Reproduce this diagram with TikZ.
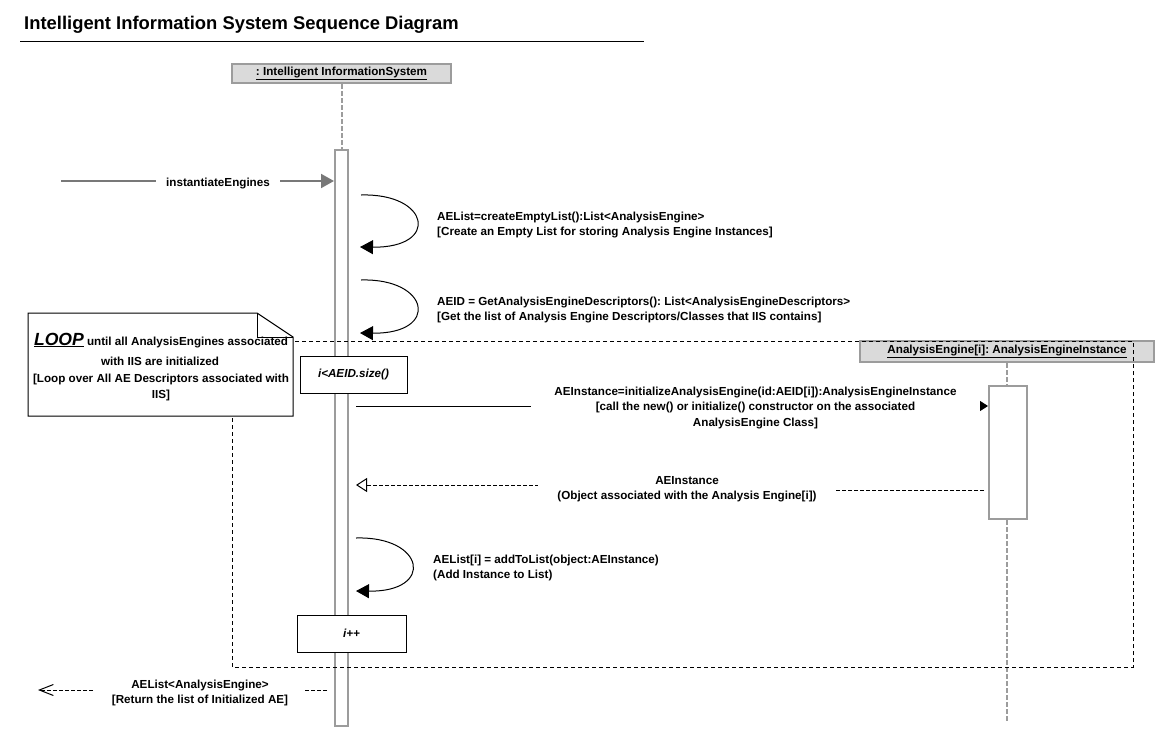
\documentclass[tikz,border=0pt]{standalone}
\usepackage{fontspec}
\setmainfont{Liberation Sans}
\usetikzlibrary{arrows.meta}
\frenchspacing
\definecolor{hdrfill}{HTML}{DADADA}
\definecolor{hdrline}{HTML}{9C9C9C}
\definecolor{msggray}{HTML}{787878}
\tikzset{
  txt/.style={font=\fontsize{11.66}{15.5}\selectfont\bfseries\frenchspacing, inner sep=0pt},
  header/.style={txt, draw=hdrline, line width=2pt, fill=hdrfill},
  actbar/.style={draw=hdrline, line width=2pt, fill=white, inner sep=0pt},
  lifeline/.style={draw=hdrline, line width=2pt, dash pattern=on 5pt off 2pt},
  guardbox/.style={txt, font=\fontsize{11.66}{15.5}\selectfont\bfseries\itshape, draw=black, line width=1pt, fill=white},
  framebox/.style={draw=black, line width=1pt, dash pattern=on 4pt off 3pt},
  notebox/.style={draw=black, line width=1pt, fill=white},
  selfcall/.style={draw=black, line width=1pt, -{Triangle[length=13pt,width=14pt]}},
  callmsg/.style={draw=black, line width=1pt, -{Triangle[length=8pt,width=10pt]}},
  replymsg/.style={draw=black, line width=1pt, dash pattern=on 4pt off 2pt, -{Triangle[open, length=11pt,width=14pt, fill=white]}},
  finalmsg/.style={draw=black, line width=1pt, dash pattern=on 4pt off 2pt, -{Straight Barb[length=14pt,width=11pt]}},
  foundmsg/.style={draw=msggray, line width=2pt, -{Triangle[length=13pt,width=14pt]}},
  lbl/.style={txt, fill=white, align=center},
  lbll/.style={txt, align=left, anchor=west},
}
\begin{document}
\begin{tikzpicture}[x=1pt,y=-1pt]
\useasboundingbox (0,0) rectangle (1175,750);

% title
\node[anchor=base west, font=\fontsize{18.4}{20}\selectfont\bfseries, inner sep=0pt] (title) at (24,29.5) {Intelligent Information System Sequence Diagram};
\draw[line width=1pt] (20,41) -- (644,41);

% lifeline headers
\node[header, minimum width=219pt, minimum height=19pt] (hdr1) at (341.5,73.5) {\underline{: Intelligent InformationSystem}};
\node[header, minimum width=294pt, minimum height=21pt] (hdr2) at (1007,351.5) {\underline{AnalysisEngine[i]: AnalysisEngineInstance}};

% activation bars
\node[actbar, minimum width=13pt, minimum height=576pt] (bar1) at (341.5,438) {};
\node[actbar, minimum width=38pt, minimum height=133pt] (bar2) at (1008,452.5) {};

% lifelines
\coordinate (end2) at (1007,722);
\draw[lifeline] (hdr1.south) -- (bar1.north);
\draw[lifeline] (hdr2.south -| 1007,0) -- (bar2.north -| 1007,0);
\draw[lifeline] (bar2.south -| 1007,0) -- (end2);

% loop frame
\draw[framebox] (232,341) rectangle (1133,667);

% note
\draw[notebox] (28,313) -- (257,313) -- (293,337) -- (293,416) -- (28,416) -- cycle;
\draw[line width=1pt] (257,313) -- (257,337) -- (293,337);
\node[txt, anchor=base] (note1) at (161,345) {{\fontsize{17.6}{18}\selectfont\itshape\underline{LOOP}} until all AnalysisEngines associated};
\node[txt, anchor=base] (note2) at (160,365.5) {with IIS are initialized};
\node[txt, anchor=base] (note3) at (161,382) {[Loop over All AE Descriptors associated with};
\node[txt, anchor=base] (note4) at (161,398) {IIS]};

% guard boxes
\node[guardbox, minimum width=107pt, minimum height=37pt] (guard) at (353.5,374.5) {i<AEID.size()};
\node[guardbox, minimum width=109pt, minimum height=37pt] (inc) at (351.5,633.5) {i++};

% found message
\coordinate (src) at (61,181);
\draw[foundmsg] (src) -- (bar1.west |- src);
\node[txt, fill=white, minimum width=124pt] (instlbl) at (218,184) {instantiateEngines};

% self call 1
\draw[selfcall] ([xshift=12pt]bar1.east |- 0,195) .. controls (430,193) and (440,248) .. ([xshift=11pt]bar1.east |- 0,247);
\node[lbll] (sc1) at (437,225) {AEList=createEmptyList():List<AnalysisEngine>\\{}[Create an Empty List for storing Analysis Engine Instances]};

% self call 2
\draw[selfcall] ([xshift=12pt]bar1.east |- 0,280) .. controls (430,278) and (440,334) .. ([xshift=11pt]bar1.east |- 0,333);
\node[lbll] (sc2) at (437,310) {AEID = GetAnalysisEngineDescriptors(): List<AnalysisEngineDescriptors>\\{}[Get the list of Analysis Engine Descriptors/Classes that IIS contains]};

% initialize call
\draw[callmsg] ([xshift=7pt]bar1.east |- 0,406) -- (bar2.west |- 0,406);
\node[lbl, minimum width=449pt] (initlbl) at (755.5,407.7) {AEInstance=initializeAnalysisEngine(id:AEID[i]):AnalysisEngineInstance\\{}[call the new() or initialize() constructor on the associated\\AnalysisEngine Class]};

% reply
\draw[replymsg] ([xshift=-4pt]bar2.west |- 0,490) -- (687,490) -- (687,485) -- ([xshift=7pt]bar1.east |- 0,485);
\node[lbl, minimum width=298pt] (replylbl) at (687,489) {AEInstance\\(Object associated with the Analysis Engine[i])};

% self call 3
\draw[selfcall] ([xshift=7pt]bar1.east |- 0,538) .. controls (425,536) and (435,592) .. ([xshift=7pt]bar1.east |- 0,591);
\node[lbll] (sc3) at (433,568) {AEList[i] = addToList(object:AEInstance)\\(Add Instance to List)};

% final return
\coordinate (ret) at (38,690);
\draw[finalmsg] ([xshift=-7pt]bar1.west |- ret) -- (ret);
\node[lbl, minimum width=210pt] (retlbl) at (200,693) {AEList<AnalysisEngine>\\{}[Return the list of Initialized AE]};
\end{tikzpicture}
\end{document}
